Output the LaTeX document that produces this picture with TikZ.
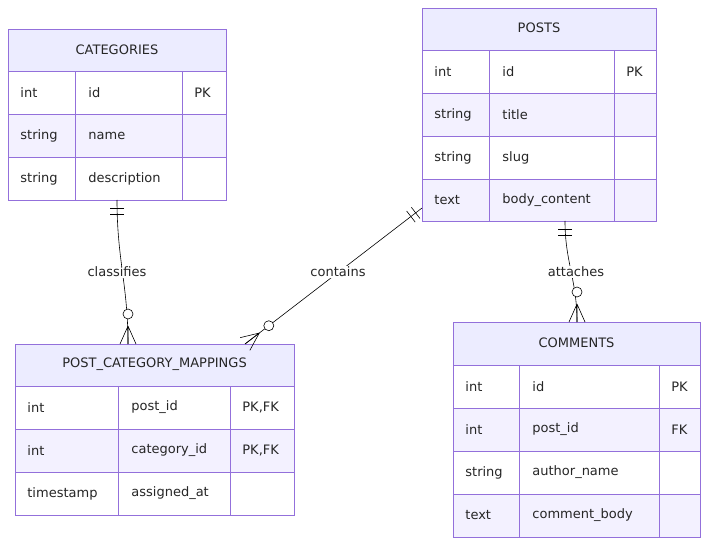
\documentclass[tikz,border=0pt]{standalone}
\usepackage{fontspec}
\setmainfont{DejaVu Sans}
\usetikzlibrary{calc}
\definecolor{hdr}{HTML}{ECECFF}
\definecolor{alt}{HTML}{F3F1FF}
\definecolor{bd}{HTML}{9370DB}
\newcommand{\erow}[9]{%
  \draw[bd,fill=#7] (#1,#5) rectangle (#2,#6);
  \draw[bd,fill=#7] (#2,#5) rectangle (#3,#6);
  \draw[bd,fill=#7] (#3,#5) rectangle (#4,#6);
  \node[txt] at ($(#1,#5)!0.5!(#1,#6)+(12pt,0)$) {#8};
  \node[txt] at ($(#2,#5)!0.5!(#2,#6)+(13pt,0)$) {#9};
}
\newcommand{\ekey}[4]{\node[txt] at ($(#1,#2)!0.5!(#1,#3)+(12pt,0)$) {#4};}
\newcommand{\crowend}[2]{%
  \coordinate (ap) at ($(#1)!18pt!(#2)$);
  \draw (ap) -- ($(#1)!8pt!90:(#2)$) (ap) -- (#1) (ap) -- ($(#1)!8pt!-90:(#2)$);
  \draw[fill=white] ($(#1)!30pt!(#2)$) circle (5pt);}
\newcommand{\oneend}[2]{%
  \draw ($($(#1)!8pt!(#2)$)!7pt!90:(#2)$) -- ($($(#1)!8pt!(#2)$)!7pt!-90:(#2)$);
  \draw ($($(#1)!14pt!(#2)$)!7pt!90:(#2)$) -- ($($(#1)!14pt!(#2)$)!7pt!-90:(#2)$);}
\begin{document}
\begin{tikzpicture}[x=1pt,y=-1pt,
  txt/.style={anchor=west,inner sep=0pt,font=\fontsize{13}{15}\selectfont,text=black!85},
  hd/.style={inner sep=0pt,font=\fontsize{13}{15}\selectfont,text=black!85},
  lbl/.style={fill=white,inner sep=1pt,font=\fontsize{13}{15}\selectfont,text=black!85},
  line width=0.8pt]
\useasboundingbox[fill=white] (0,0) rectangle (709,545);
% CATEGORIES
\draw[bd,fill=hdr] (8,29) rectangle (226,71);
\node[hd] (cat) at (117,50) {CATEGORIES};
\erow{8}{75}{182}{226}{71}{114}{white}{int}{id}\ekey{182}{71}{114}{PK}
\erow{8}{75}{182}{226}{114}{157}{alt}{string}{name}
\erow{8}{75}{182}{226}{157}{200}{white}{string}{description}
% POSTS
\draw[bd,fill=hdr] (422,8) rectangle (656,50);
\node[hd] (posts) at (539,28) {POSTS};
\erow{422}{489}{614}{656}{50}{93}{white}{int}{id}\ekey{614}{50}{93}{PK}
\erow{422}{489}{614}{656}{93}{136}{alt}{string}{title}
\erow{422}{489}{614}{656}{136}{179}{white}{string}{slug}
\erow{422}{489}{614}{656}{179}{221}{alt}{text}{body\_content}
% MAPPINGS
\draw[bd,fill=hdr] (15,344) rectangle (294,386);
\node[hd] (map) at (154.5,364) {POST\_CATEGORY\_MAPPINGS};
\erow{15}{118}{230}{294}{386}{429}{white}{int}{post\_id}\ekey{230}{386}{429}{PK,FK}
\erow{15}{118}{230}{294}{429}{472}{alt}{int}{category\_id}\ekey{230}{429}{472}{PK,FK}
\erow{15}{118}{230}{294}{472}{515}{white}{timestamp}{assigned\_at}
% COMMENTS
\draw[bd,fill=hdr] (453,322) rectangle (700,365);
\node[hd] (com) at (576.5,343) {COMMENTS};
\erow{453}{519}{659}{700}{365}{408}{white}{int}{id}\ekey{659}{365}{408}{PK}
\erow{453}{519}{659}{700}{408}{451}{alt}{int}{post\_id}\ekey{659}{408}{451}{FK}
\erow{453}{519}{659}{700}{451}{494}{white}{string}{author\_name}
\erow{453}{519}{659}{700}{494}{537}{alt}{text}{comment\_body}
% edges
\begin{scope}[line width=0.6pt]
\coordinate (a1) at (117,200); \coordinate (b1) at (128,344);
\coordinate (a1d) at (117,240); \coordinate (b1d) at (128,300);
\draw (a1) .. controls (117,260) and (128,285) .. (b1);
\node[lbl] (l1) at (117,272) {classifies};
\oneend{a1}{a1d}\crowend{b1}{b1d}
\coordinate (a2) at (422,208); \coordinate (b2) at (245,344);
\draw (a2) -- (b2);
\node[lbl] (l2) at (338,272) {contains};
\oneend{a2}{b2}\crowend{b2}{a2}
\coordinate (a3) at (565,221); \coordinate (b3) at (577,322);
\coordinate (a3d) at (565,260); \coordinate (b3d) at (577,285);
\draw (a3) .. controls (565,262) and (577,280) .. (b3);
\node[lbl] (l3) at (576,272) {attaches};
\oneend{a3}{a3d}\crowend{b3}{b3d}
\end{scope}
\end{tikzpicture}
\end{document}
